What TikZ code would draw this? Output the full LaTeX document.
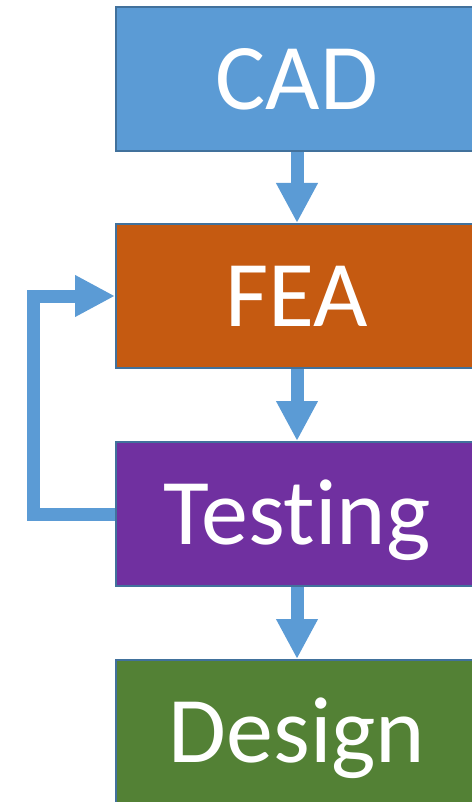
\documentclass[tikz,border=0pt]{standalone}
\usepackage{fontspec}
\setmainfont{Carlito}[Ligatures={NoCommon}]
\usetikzlibrary{arrows.meta}
\definecolor{cadblue}{HTML}{5B9BD5}
\definecolor{edgeblue}{HTML}{41719C}
\definecolor{feaorange}{HTML}{C55A11}
\definecolor{testpurple}{HTML}{7030A0}
\definecolor{designgreen}{HTML}{538135}
\tikzset{
  stagebox/.style={draw=edgeblue, line width=2pt, minimum width=362pt, minimum height=144pt,
    inner sep=0pt, text=white, font=\fontsize{94}{100}\selectfont, text height=60pt, text depth=0pt},
  flow/.style={draw=cadblue, line width=13pt, line cap=butt, line join=miter,
    -{Triangle[length=40pt,width=39pt]}}
}
\begin{document}
\begin{tikzpicture}[x=1pt,y=1pt]
\useasboundingbox (0,0) rectangle (471,-802);
\node[stagebox, fill=cadblue] (cad) at (297,-79.5) {CAD};
\node[stagebox, fill=feaorange] (fea) at (297,-296) {FEA};
\node[stagebox, fill=testpurple] (test) at (297,-514) {Testing};
\node[stagebox, fill=designgreen] (design) at (297,-732) {Design};
\coordinate (lb) at (33.5,-514);
\coordinate (lt) at (33.5,-296);
\draw[flow] (cad.south) -- (fea.north);
\draw[flow] (fea.south) -- (test.north);
\draw[flow] (test.south) -- (design.north);
\draw[flow] (test.west) -- (lb) -- (lt) -- (fea.west);
\end{tikzpicture}
\end{document}
